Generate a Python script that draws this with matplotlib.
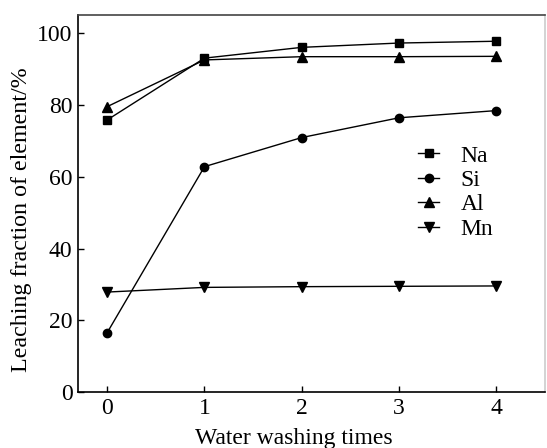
import matplotlib
matplotlib.use("Agg")
from matplotlib import pyplot as plt

plt.rcParams['font.family'] = ['Liberation Serif', 'DejaVu Serif']
plt.rcParams['mathtext.fontset'] = 'stix'

times = [0, 1, 2, 3, 4]
na = [75.8, 93.0, 96.0, 97.2, 97.7]
si = [16.6, 62.8, 70.9, 76.4, 78.4]
al = [79.5, 92.5, 93.4, 93.4, 93.5]
mn = [27.9, 29.2, 29.4, 29.5, 29.6]

fig = plt.figure(figsize=(5.47, 4.48), dpi=100)
ax = fig.add_axes([0.1426, 0.1243, 0.8537, 0.8422])

ax.plot(times, na, color='black', marker='s', markersize=5.5, linewidth=1.0, label='Na')
ax.plot(times, si, color='black', marker='o', markersize=6, linewidth=1.0, label='Si')
ax.plot(times, al, color='black', marker='^', markersize=6.5, linewidth=1.0, label='Al')
ax.plot(times, mn, color='black', marker='v', markersize=6.5, linewidth=1.0, label='Mn')

ax.set_xlim(-0.3, 4.5)
ax.set_ylim(0, 105)
ax.set_xticks(times)
ax.set_yticks([0, 20, 40, 60, 80, 100])
ax.tick_params(direction='in', length=4, width=1.0, labelsize=17, pad=4)
for s in ax.spines.values():
    s.set_linewidth(1.2)
ax.spines['top'].set_color('#444444')
ax.spines['right'].set_color('#cccccc')

ax.set_xlabel("Water washing times", fontsize=17)
ax.set_ylabel("Leaching fraction of element/%", fontsize=17.3)
ax.xaxis.set_label_coords(0.4625, -0.095)
ax.yaxis.set_label_coords(-0.0985, 0.457)

ax.legend(loc='upper left', bbox_to_anchor=(0.728, 0.655), frameon=False, fontsize=17,
          handlelength=0.9, handletextpad=0.9, labelspacing=0.12, borderaxespad=0,
          borderpad=0)

fig.savefig("out.png", dpi=100)
